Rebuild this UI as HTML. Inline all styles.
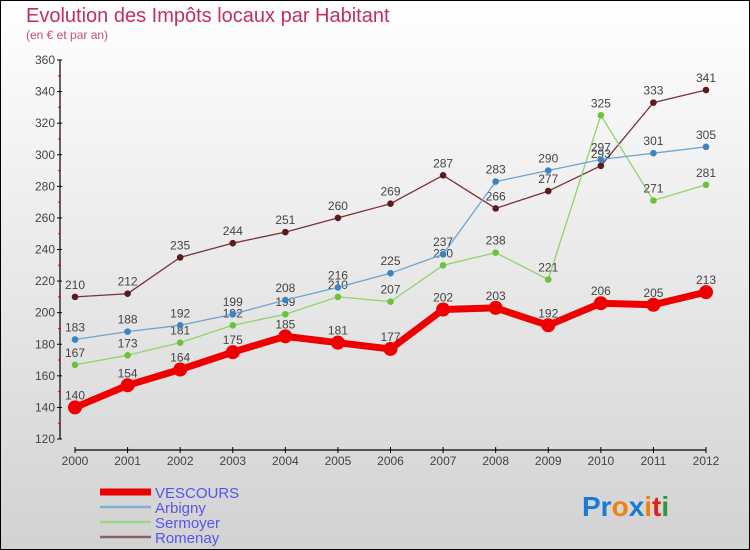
<!DOCTYPE html>
<html><head><meta charset="utf-8"><style>
body{margin:0;width:750px;height:550px;overflow:hidden;font-family:"Liberation Sans",sans-serif;}
#wrap{position:absolute;left:0;top:0;width:748px;height:548px;border:1px solid #000;background:linear-gradient(#ffffff,#d2d2d2);}
</style></head><body>
<div id="wrap">
<svg id="chart" width="750" height="550" style="position:absolute;left:-1px;top:-1px">
<text x="26" y="22" font-size="20" fill="#c0305a">Evolution des Impôts locaux par Habitant</text>
<text x="26" y="39" font-size="12" fill="#c0507a">(en € et par an)</text>
</svg></div>
<script>
const years=[2000,2001,2002,2003,2004,2005,2006,2007,2008,2009,2010,2011,2012];
const vescours=[140,154,164,175,185,181,177,202,203,192,206,205,213];
const arbigny=[183,188,192,199,208,216,225,237,283,290,297,301,305];
const sermoyer=[167,173,181,192,199,210,207,230,238,221,325,271,281];
const romenay=[210,212,235,244,251,260,269,287,266,277,293,333,341];
const yTicks=[120,140,160,180,200,220,240,260,280,300,320,340,360];
const NS="http://www.w3.org/2000/svg";
const svg=document.getElementById('chart');
const X=i=>75+i*(706-75)/12;
const Y=v=>439-(v-120)*(439-60)/240;
function mk(t,a,p){const e=document.createElementNS(NS,t);for(const k in a)e.setAttribute(k,a[k]);(p||svg).appendChild(e);return e;}
let ax=mk('line',{x1:60,y1:60,x2:60,y2:439,stroke:'#000','stroke-width':1.2});


let bx=mk('line',{x1:75,y1:450,x2:706,y2:450,stroke:'#000','stroke-width':1.2});


yTicks.forEach((v,i)=>{
 mk('line',{x1:57,y1:Y(v),x2:62,y2:Y(v),stroke:'#000'});
 if(i<yTicks.length-1)mk('line',{x1:58,y1:Y(v+10),x2:61,y2:Y(v+10),stroke:'#e00'});
 const t=mk('text',{x:55,y:Y(v)+4,'text-anchor':'end','font-size':12,fill:'#444'});t.textContent=v;
 
 
});
years.forEach((y,i)=>{
 mk('line',{x1:X(i),y1:447,x2:X(i),y2:453,stroke:'#000'});
 const t=mk('text',{x:X(i),y:465,'text-anchor':'middle','font-size':12,fill:'#444'});t.textContent=y;
 
 
});
function series(data,color,dot,w,r,name){
 const g=mk('g',{});
 
 
 mk('polyline',{points:data.map((v,i)=>X(i)+','+Y(v)).join(' '),fill:'none',stroke:color,'stroke-width':w,'stroke-linejoin':'round'},g);
 data.forEach((v,i)=>{
  const c=mk('circle',{cx:X(i),cy:Y(v),r:r,fill:dot},g);
  
  
  const t=mk('text',{x:X(i),y:Y(v)-8,'text-anchor':'middle','font-size':12,fill:'#444'},g);t.textContent=v;
  
  
 });
}
series(romenay,'#7a3035','#5a1a1e',1.3,3.3,'romenay');
series(sermoyer,'#8fd46a','#6cc23c',1.3,3.3,'sermoyer');
series(arbigny,'#6aa4d4','#3a84c4',1.3,3.3,'arbigny');
series(vescours,'#ee0000','#ee0000',7,7,'vescours');
const leg=[['VESCOURS','#ee0000',7],['Arbigny','#7fb0d0',2.5],['Sermoyer','#9ed48a',2.5],['Romenay','#8a6060',2.5]];
leg.forEach((l,i)=>{
 const y=492+i*15;
 const ln=mk('line',{x1:100,y1:y,x2:151,y2:y,stroke:l[1],'stroke-width':l[2]});
 
 
 const t=mk('text',{x:155,y:y+6,'font-size':15,fill:'#5555ee'});t.textContent=l[0];
 
 
});
const p=mk('text',{x:582,y:516,'font-size':28,'font-weight':'bold','font-family':'Liberation Sans, sans-serif'});


[['Pr','#1a7ad4'],['o','#f08010'],['x','#1a7ad4'],['i','#f08010'],['t','#e02020'],['i','#2a9a3a']].forEach(s=>{const ts=mk('tspan',{fill:s[1]},p);ts.textContent=s[0];});
</script>
</body></html>
